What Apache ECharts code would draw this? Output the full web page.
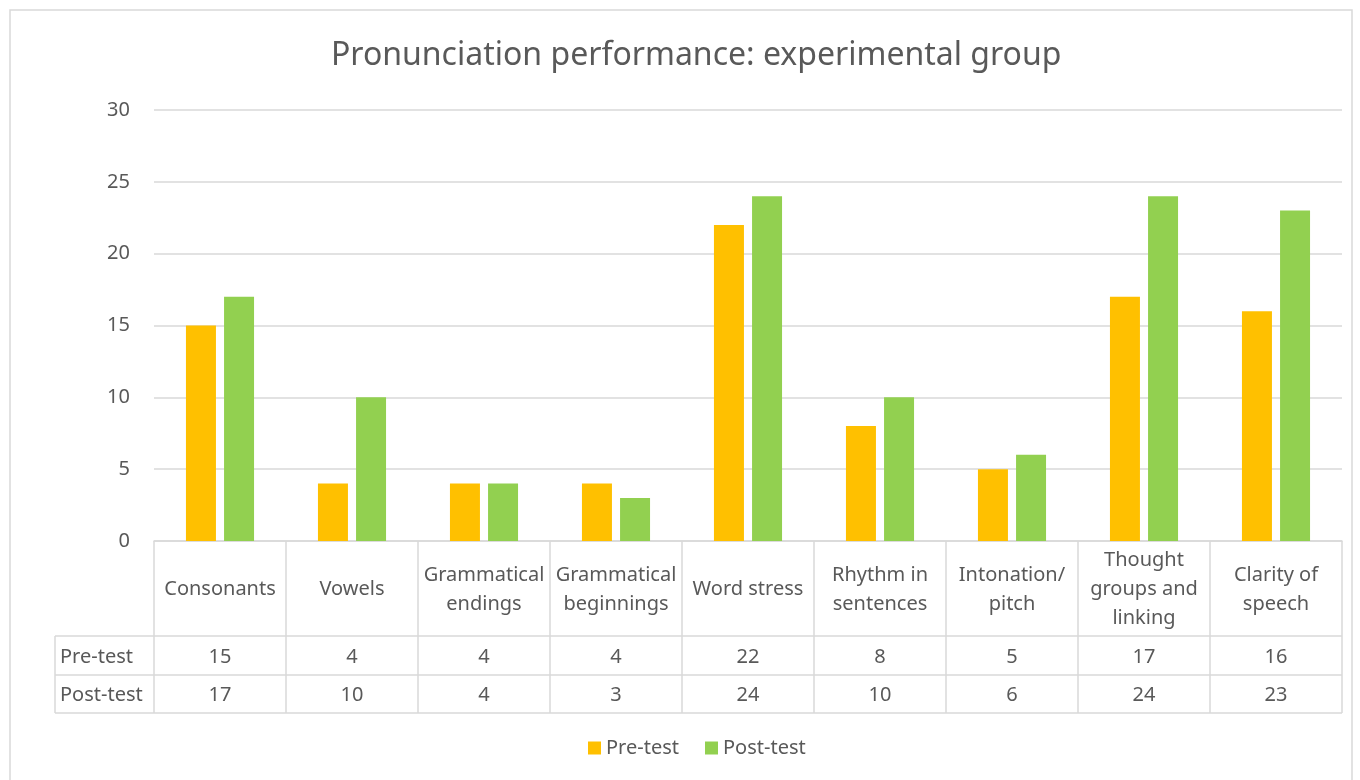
<!DOCTYPE html>
<html>
<head>
<meta charset="utf-8">
<script src="https://cdn.jsdelivr.net/npm/echarts@6/dist/echarts.min.js"></script>
<style>
  html, body { margin: 0; padding: 0; background: #fff; }
  #chart { width: 1360px; height: 780px; }
</style>
</head>
<body>
<div id="chart"></div>
<script>
  // categories and values
  const categories = ['Consonants', 'Vowels', 'Grammatical\nendings', 'Grammatical\nbeginnings', 'Word stress',
    'Rhythm in\nsentences', 'Intonation/\npitch', 'Thought\ngroups and\nlinking', 'Clarity of\nspeech']
  const preTest = [15, 4, 4, 4, 22, 8, 5, 17, 16]
  const postTest = [17, 10, 4, 3, 24, 10, 6, 24, 23]
  const seriesNames = ['Pre-test', 'Post-test']
  const yTicks = [0, 5, 10, 15, 20, 25, 30]

  const textColor = '#595959'
  const lineColor = '#d9d9d9'
  const font = 'Noto Sans, sans-serif'

  // layout
  const gridLeft = 154, gridRight = 1342, gridTop = 110, gridBottom = 541
  const headerBottom = 636, row1Bottom = 675, row2Bottom = 713, tableLeft = 55

  let chart = echarts.init(document.getElementById('chart'))

  chart.setOption({
    animation: false,
    backgroundColor: '#fff',
    title: {
      text: 'Pronunciation performance: experimental group',
      left: 326,
      top: 35,
      textStyle: {color: textColor, fontSize: 32, fontWeight: 'normal', fontFamily: font}
    },
    legend: {
      data: seriesNames,
      bottom: 17,
      left: 583,
      itemWidth: 13,
      itemHeight: 13,
      itemGap: 26,
      icon: 'rect',
      textStyle: {color: textColor, fontSize: 20, fontFamily: font}
    },
    grid: {
      left: gridLeft,
      right: 1360 - gridRight,
      top: gridTop,
      bottom: 780 - gridBottom
    },
    xAxis: {
      type: 'category',
      data: categories,
      axisLine: {show: true, lineStyle: {color: lineColor, width: 1.5}},
      axisTick: {show: false},
      axisLabel: {
        interval: 0,
        margin: (headerBottom - gridBottom) / 2 + 1,
        verticalAlign: 'middle',
        lineHeight: 29,
        color: textColor,
        fontSize: 20,
        fontFamily: font
      }
    },
    yAxis: {
      type: 'value',
      min: yTicks[0],
      max: yTicks[yTicks.length - 1],
      interval: 5,
      axisLine: {show: false},
      axisTick: {show: false},
      axisLabel: {margin: 24, color: textColor, fontSize: 20, fontFamily: font},
      splitLine: {lineStyle: {color: lineColor, width: 1.5}}
    },
    series: [
      {
        name: seriesNames[0],
        type: 'bar',
        data: preTest,
        barWidth: 30,
        barGap: '27%',
        itemStyle: {color: '#FFC000'}
      },
      {
        name: seriesNames[1],
        type: 'bar',
        data: postTest,
        barWidth: 30,
        barGap: '27%',
        itemStyle: {color: '#92D050'}
      }
    ]
  })

  // data table under the axis, placed from the category axis
  let graphics = []
  let band = (gridRight - gridLeft) / categories.length
  let line = function (x1, y1, x2, y2) {
    graphics.push({
      type: 'line',
      shape: {x1: x1, y1: y1, x2: x2, y2: y2},
      style: {stroke: lineColor, lineWidth: 1.5},
      silent: true
    })
  }
  let text = function (x, y, str, align) {
    graphics.push({
      type: 'text',
      x: x,
      y: y,
      style: {
        text: String(str),
        fill: textColor,
        font: '20px ' + font,
        textAlign: align,
        textVerticalAlign: 'middle'
      },
      silent: true
    })
  }

  // chart area border
  graphics.push({
    type: 'rect',
    shape: {x: 10, y: 10, width: 1342, height: 800},
    style: {fill: null, stroke: lineColor, lineWidth: 1.5},
    silent: true
  })

  line(tableLeft, headerBottom, gridRight, headerBottom)
  line(tableLeft, row1Bottom, gridRight, row1Bottom)
  line(tableLeft, row2Bottom, gridRight, row2Bottom)
  line(tableLeft, headerBottom, tableLeft, row2Bottom)
  for (let i = 0; i < categories.length; i++) {
    let cx = chart.convertToPixel({xAxisIndex: 0}, i)
    let x0 = cx - band / 2
    line(x0, gridBottom, x0, row2Bottom)
    if (i === categories.length - 1) {
      line(x0 + band, gridBottom, x0 + band, row2Bottom)
    }
    text(cx, (headerBottom + row1Bottom) / 2 + 1.5, preTest[i], 'center')
    text(cx, (row1Bottom + row2Bottom) / 2 + 1.5, postTest[i], 'center')
  }
  text(tableLeft + 5, (headerBottom + row1Bottom) / 2 + 1.5, seriesNames[0], 'left')
  text(tableLeft + 5, (row1Bottom + row2Bottom) / 2 + 1.5, seriesNames[1], 'left')

  chart.setOption({graphic: graphics})
</script>
</body>
</html>
